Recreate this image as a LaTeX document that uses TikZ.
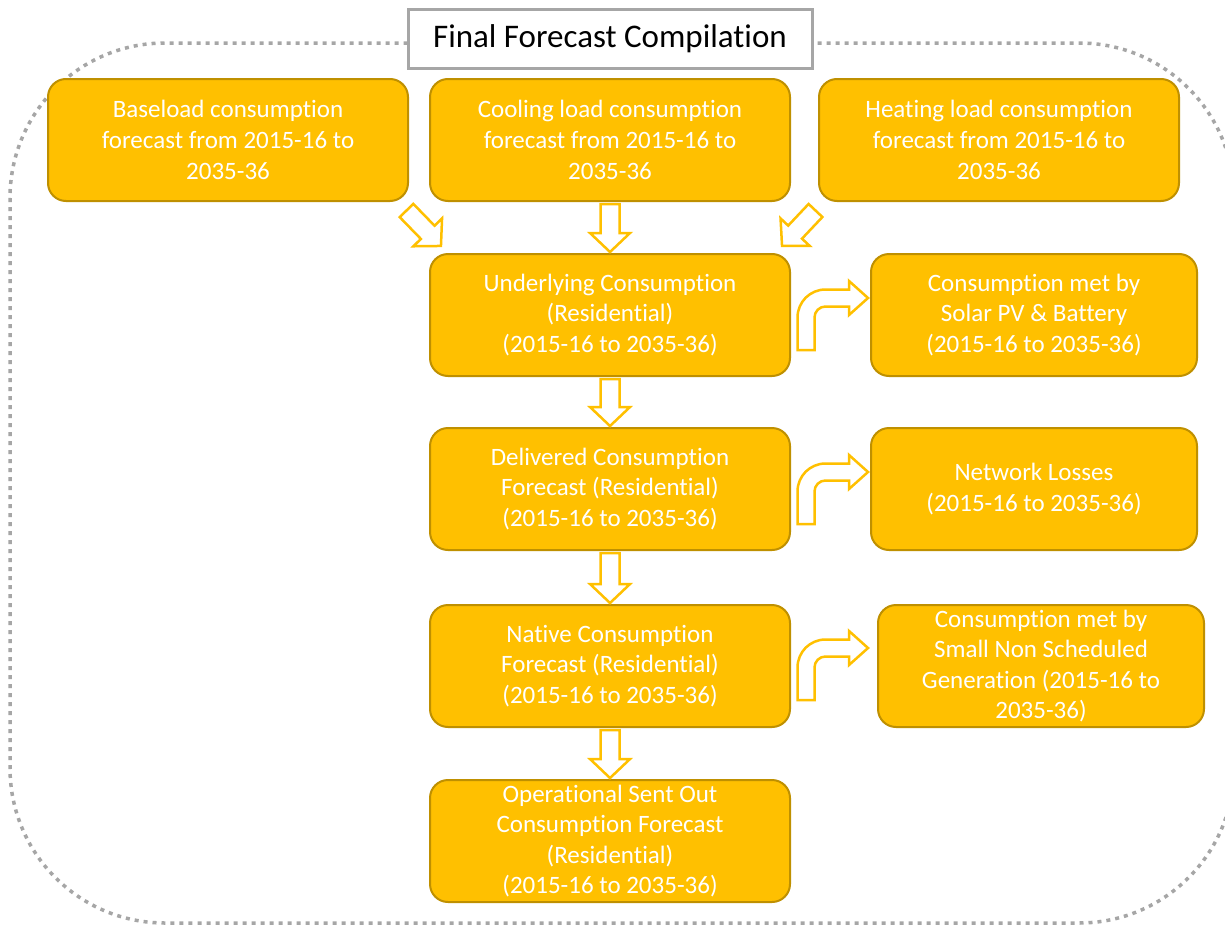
\documentclass[tikz,border=0pt]{standalone}
\usepackage{fontspec}
\setmainfont{Carlito}[RawFeature={-liga;-clig;-calt;-dlig}]
\usetikzlibrary{calc}

\definecolor{gold}{HTML}{FFC000}
\definecolor{goldedge}{HTML}{BF9000}
\definecolor{framegray}{HTML}{A6A6A6}

\tikzset{
  stage/.style={rectangle, rounded corners=18pt, fill=gold, draw=goldedge,
    line width=2pt, minimum width=360pt, minimum height=122pt, inner sep=0pt,
    align=center, text=white, font=\fontsize{25}{30.6}\selectfont},
  sidestage/.style={stage, minimum width=326pt},
  titlebox/.style={rectangle, fill=white, draw=framegray, line width=3pt,
    minimum width=404pt, minimum height=59pt, inner sep=0pt,
    font=\fontsize{33}{40}\selectfont},
  framedots/.style={draw=framegray, line width=3.5pt, dash pattern=on 4pt off 5pt,
    rounded corners=155pt},
  blockarrow/.style={draw=gold, fill=white, line width=2.5pt, line join=miter},
  % right-turn block arrow, origin at the bottom centre of its shaft
  bentblock/.pic={
    \draw[blockarrow] (-8.5,0) -- (-8.5,-32.5)
      .. controls (-8.5,-48) and (4,-60.5) .. (19.5,-60.5)
      -- (43,-60.5) -- (43,-69) -- (62,-52) -- (43,-35) -- (43,-43.5)
      -- (19.5,-43.5) .. controls (13.4,-43.5) and (8.5,-38.6) .. (8.5,-32.5)
      -- (8.5,0) -- cycle;
  },
}

% straight block arrow from one point to another (tail to tip)
\newcommand\straightblock[2]{%
  \path let \p1=($(#2)-(#1)$) in \pgfextra{%
    \pgfmathsetmacro\blkang{atan2(\y1,\x1)}%
    \pgfmathsetmacro\blklen{veclen(\x1,\y1)}%
    \xdef\blkang{\blkang}\xdef\blklen{\blklen}};
  \begin{scope}[shift={(#1)}, rotate=\blkang]
    \draw[blockarrow] (0,-9.5) -- ({\blklen-19},-9.5) -- ({\blklen-19},-20)
      -- (\blklen,0) -- ({\blklen-19},20) -- ({\blklen-19},9.5) -- (0,9.5) -- cycle;
  \end{scope}}

\begin{document}
\begin{tikzpicture}[x=1pt, y=-1pt]
  \useasboundingbox (0,0) rectangle (1225,926);
  \fill[white] (0,0) rectangle (1225,926);

  % dotted enclosure and its caption
  \draw[framedots] (10,43) rectangle (1234,923);
  \node[titlebox] (title) at (610,38.5) {Final Forecast Compilation};

  % input forecasts
  \node[stage] (base) at (228,140) {Baseload consumption\\forecast from 2015-16 to\\2035-36};
  \node[stage] (cool) at (610,140) {Cooling load consumption\\forecast from 2015-16 to\\2035-36};
  \node[stage] (heat) at (999,140) {Heating load consumption\\forecast from 2015-16 to\\2035-36};

  % main chain
  \node[stage] (under)  at (610,315) {Underlying Consumption\\(Residential)\\(2015-16 to 2035-36)};
  \node[stage] (deliv)  at (610,489) {Delivered Consumption\\Forecast (Residential)\\(2015-16 to 2035-36)};
  \node[stage] (native) at (610,666) {Native Consumption\\Forecast (Residential)\\(2015-16 to 2035-36)};
  \node[stage] (oper)   at (610,841) {Operational Sent Out\\Consumption Forecast\\(Residential)\\(2015-16 to 2035-36)};

  % side components
  \node[sidestage] (solar) at (1034,315) {Consumption met by\\Solar PV \& Battery\\(2015-16 to 2035-36)};
  \node[sidestage] (loss)  at (1034,489) {Network Losses\\(2015-16 to 2035-36)};
  \node[sidestage] (small) at (1041,666) {Consumption met by\\Small Non Scheduled\\Generation (2015-16 to\\2035-36)};

  % arrow end points
  \coordinate (baseT) at ($(base.south east)+(-2.5,8.5)$);
  \coordinate (baseH) at ($(under.north west)+(12,-7)$);
  \coordinate (heatT) at ($(heat.south west)+(-2.5,8.5)$);
  \coordinate (heatH) at ($(under.north east)+(-9,-7)$);

  % block arrows between stages
  \straightblock{baseT}{baseH}
  \straightblock{heatT}{heatH}
  \straightblock{$(cool.south)+(0,2)$}{$(under.north)+(0,-1)$}
  \straightblock{$(under.south)+(0,2)$}{$(deliv.north)+(0,-1)$}
  \straightblock{$(deliv.south)+(0,2)$}{$(native.north)+(0,-1)$}
  \straightblock{$(native.south)+(0,2)$}{$(oper.north)+(0,-1)$}

  % turning arrows to the side components
  \pic at ($(under.east)+(15,35)$) {bentblock};
  \pic at ($(deliv.east)+(15,35)$) {bentblock};
  \pic at ($(native.east)+(15,34)$) {bentblock};
\end{tikzpicture}
\end{document}
